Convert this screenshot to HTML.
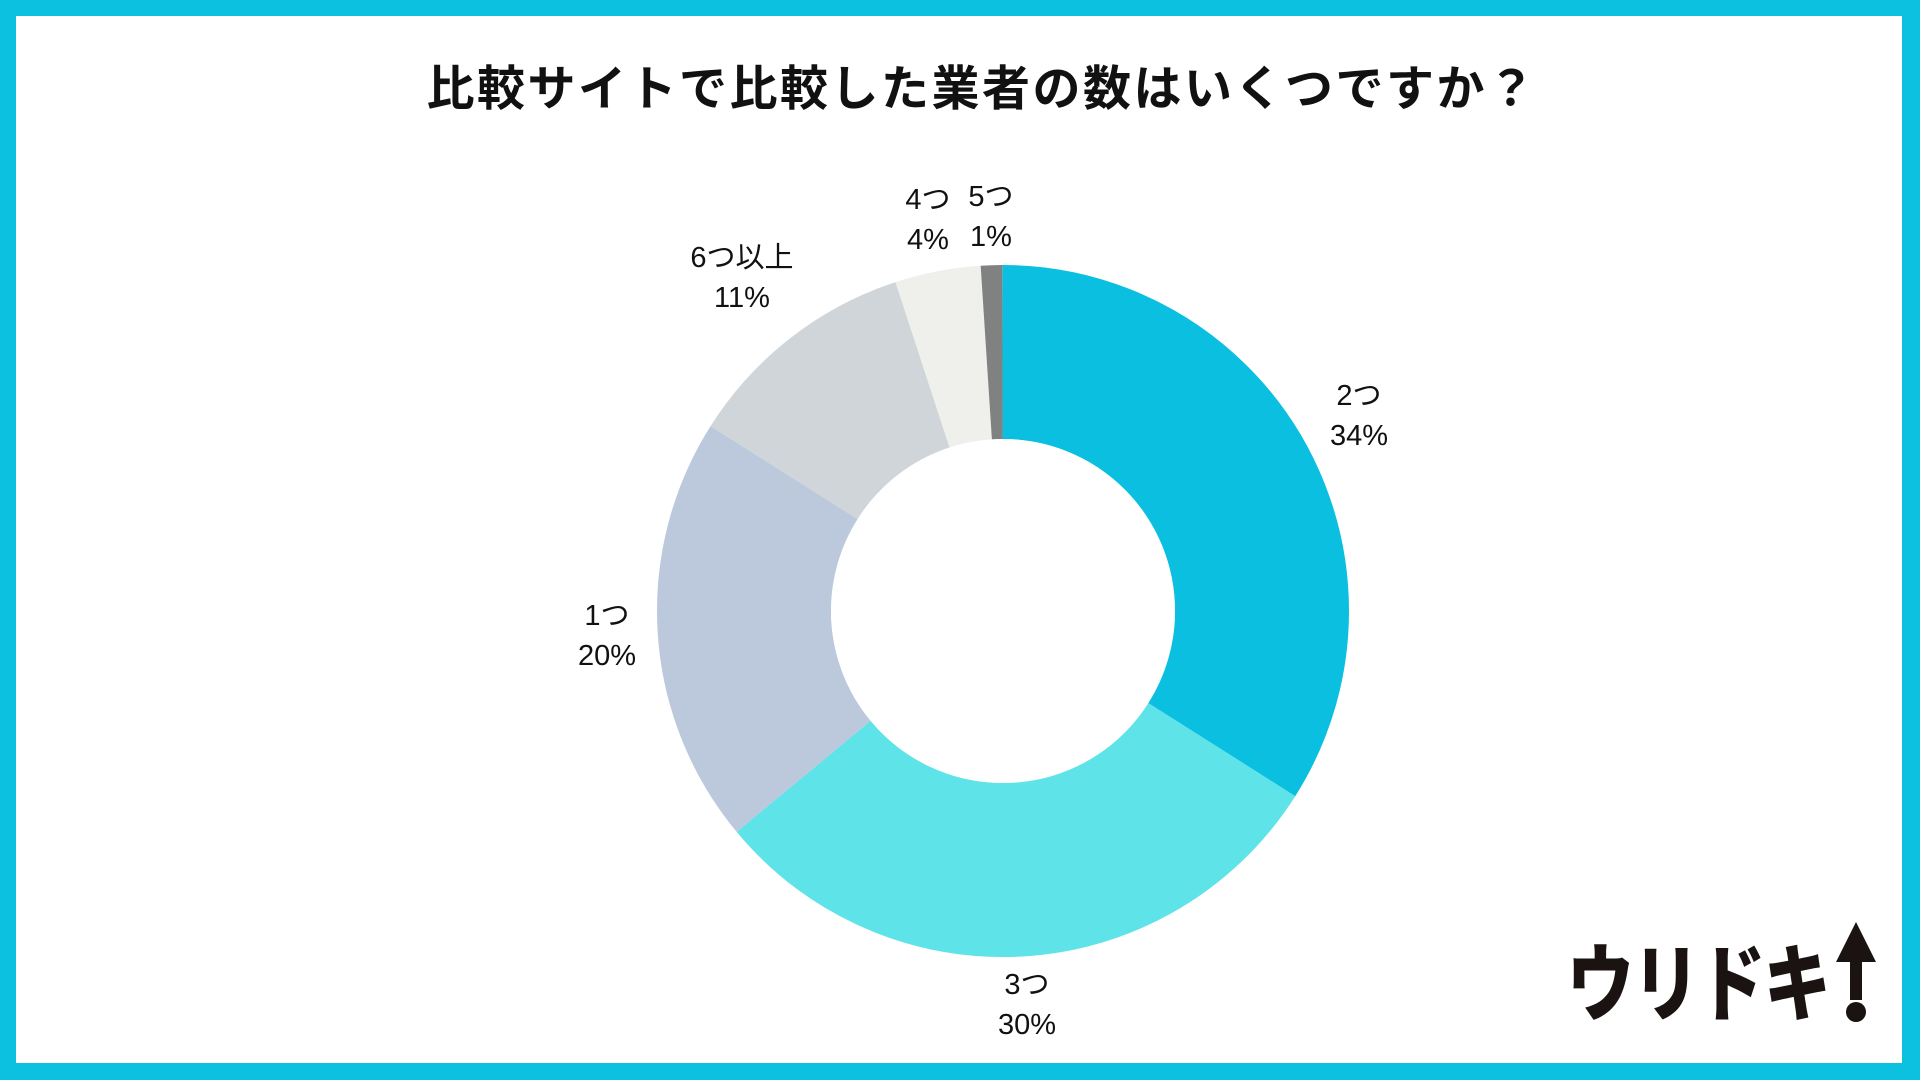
<!DOCTYPE html>
<html><head><meta charset="utf-8">
<style>
html,body{margin:0;padding:0;}
body{width:1920px;height:1080px;position:relative;overflow:hidden;background:#0cc0e0;font-family:"Liberation Sans","Noto Sans CJK JP",sans-serif;}
#card{position:absolute;left:16px;top:16px;width:1886px;height:1047px;background:#fff;}
.t{position:absolute;white-space:nowrap;transform:translate(-50%,-50%);color:#111;}
#title{left:982px;top:84px;font-size:48px;font-weight:bold;letter-spacing:2.5px;}
.l{font-size:29px;line-height:40px;text-align:center;}
#logo{position:absolute;left:1567px;top:935px;font-size:84px;font-weight:900;color:#1a1311;letter-spacing:-2px;white-space:nowrap;line-height:100px;transform:scaleX(0.8);transform-origin:0 0;}
</style></head><body>
<div id="card"></div>
<svg width="1920" height="1080" style="position:absolute;left:0;top:0">
<g transform="rotate(-90 1003 611)" fill="none" stroke-width="174">
<circle cx="1003" cy="611" r="259" pathLength="100" stroke="#0bbfe0" stroke-dasharray="34 66" stroke-dashoffset="0"/>
<circle cx="1003" cy="611" r="259" pathLength="100" stroke="#5ee3e8" stroke-dasharray="30 70" stroke-dashoffset="-34"/>
<circle cx="1003" cy="611" r="259" pathLength="100" stroke="#bcc8dc" stroke-dasharray="20 80" stroke-dashoffset="-64"/>
<circle cx="1003" cy="611" r="259" pathLength="100" stroke="#cfd5d9" stroke-dasharray="11 89" stroke-dashoffset="-84"/>
<circle cx="1003" cy="611" r="259" pathLength="100" stroke="#efefec" stroke-dasharray="4 96" stroke-dashoffset="-95"/>
<circle cx="1003" cy="611" r="259" pathLength="100" stroke="#808282" stroke-dasharray="1 99" stroke-dashoffset="-99"/>
</g>
<circle cx="1003" cy="611" r="172" fill="#fff"/>
<polygon points="1856,922 1876,962 1862,962 1862,1000 1850,1000 1850,962 1836,962" fill="#1a1311"/>
<circle cx="1856" cy="1012" r="10" fill="#1a1311"/>
</svg>
<div class="t" id="title">比較サイトで比較した業者の数はいくつですか？</div>
<div class="t l" style="left:1359px;top:416px">2つ<br>34%</div>
<div class="t l" style="left:1027px;top:1005px">3つ<br>30%</div>
<div class="t l" style="left:607px;top:636px">1つ<br>20%</div>
<div class="t l" style="left:742px;top:278px">6つ以上<br>11%</div>
<div class="t l" style="left:928px;top:220px">4つ<br>4%</div>
<div class="t l" style="left:991px;top:217px">5つ<br>1%</div>
<div id="logo">ウリドキ</div>
</body></html>
